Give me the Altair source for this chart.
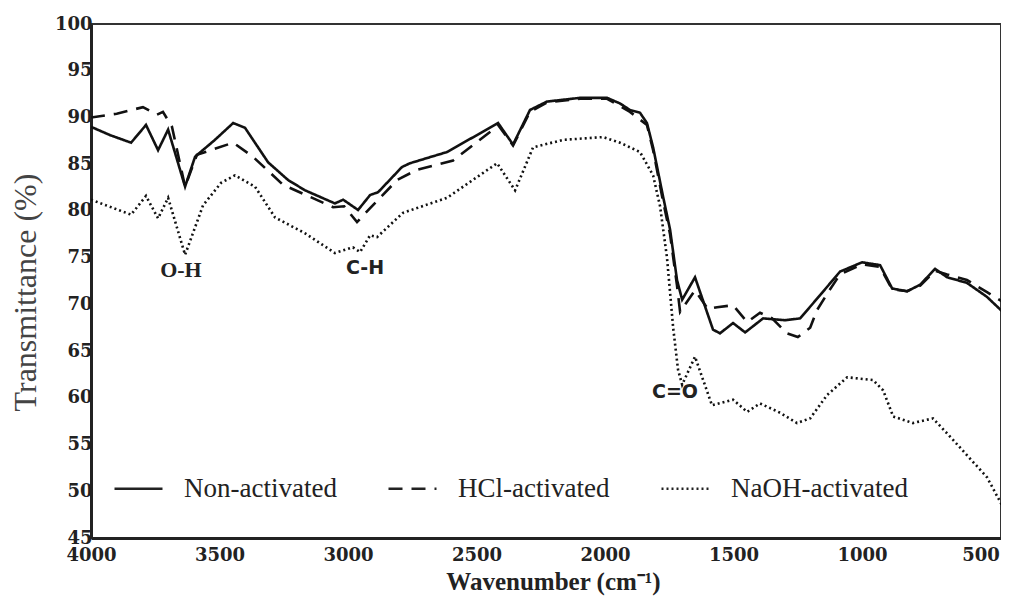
import altair as alt
import pandas as pd

# ---- data (wavenumber cm-1, transmittance %) ----
non_wn = [4000, 3925, 3844, 3786, 3739, 3700, 3634, 3595, 3518, 3447, 3401, 3311, 3233, 3167,
          3051, 3019, 2961, 2914, 2883, 2790, 2759, 2615, 2416, 2358, 2292, 2226, 2097, 1992,
          1942, 1903, 1864, 1837, 1813, 1774, 1747, 1720, 1700, 1650, 1580, 1553, 1502, 1455,
          1385, 1300, 1241, 1163, 1086, 1000, 930, 883, 825, 774, 716, 669, 592, 514, 430]
non_t = [89.0, 88.1, 87.3, 89.2, 86.5, 88.7, 82.6, 85.8, 87.6, 89.4, 88.9, 85.2, 83.3, 82.2,
         80.8, 81.2, 80.1, 81.7, 82.0, 84.7, 85.1, 86.3, 89.4, 87.1, 90.8, 91.7, 92.1, 92.1,
         91.5, 90.8, 90.5, 89.4, 86.8, 81.5, 78.0, 72.6, 70.5, 72.9, 67.3, 66.9, 68.0, 67.0,
         68.5, 68.3, 68.5, 71.0, 73.5, 74.5, 74.2, 71.7, 71.4, 72.1, 73.8, 72.9, 72.3, 70.8, 68.6]

hcl_wn = [4000, 3900, 3798, 3743, 3720, 3685, 3634, 3588, 3447, 3370, 3253, 3058, 3015, 2965,
          2914, 2809, 2732, 2591, 2436, 2416, 2358, 2292, 2226, 2097, 1992, 1903, 1837, 1813,
          1774, 1747, 1720, 1708, 1650, 1600, 1564, 1502, 1447, 1397, 1350, 1292, 1250, 1202,
          1175, 1132, 1086, 1000, 930, 883, 825, 774, 716, 669, 592, 514, 430]
hcl_t = [90.0, 90.4, 91.1, 90.3, 90.6, 89.0, 82.6, 86.0, 87.3, 85.8, 82.8, 80.4, 80.5, 78.8,
         80.3, 83.3, 84.4, 85.4, 88.7, 89.2, 87.0, 90.6, 91.6, 92.0, 92.0, 90.6, 89.2, 86.5,
         81.0, 77.5, 72.0, 69.2, 71.5, 69.5, 69.7, 69.9, 68.1, 69.1, 68.5, 66.9, 66.5, 67.5,
         69.4, 71.3, 73.2, 74.3, 74.0, 71.6, 71.4, 72.0, 73.6, 73.2, 72.6, 71.3, 69.9]

naoh_wn = [4000, 3844, 3786, 3739, 3700, 3634, 3564, 3494, 3440, 3362, 3284, 3167, 3051, 2981,
           2953, 2914, 2887, 2786, 2615, 2420, 2350, 2280, 2163, 2008, 1942, 1864, 1813, 1786,
           1759, 1735, 1716, 1700, 1650, 1584, 1502, 1447, 1397, 1319, 1253, 1202, 1136, 1058,
           957, 918, 879, 802, 724, 646, 514, 430]
naoh_t = [81.2, 79.6, 81.6, 79.2, 81.4, 75.3, 80.6, 83.0, 83.8, 82.6, 79.3, 77.6, 75.5, 76.1,
          75.6, 77.4, 77.2, 79.8, 81.4, 85.1, 82.2, 86.8, 87.6, 87.9, 87.3, 86.3, 83.8, 80.5,
          75.0, 67.5, 63.0, 61.4, 64.4, 59.2, 59.8, 58.5, 59.4, 58.4, 57.3, 57.8, 60.3, 62.2,
          61.9, 60.8, 58.0, 57.3, 57.8, 55.5, 51.5, 47.2]

series_names = ["Non-activated", "HCl-activated", "NaOH-activated"]

ann_labels = ["O-H", "C-H", "C=O"]
ann_wn = [3650, 2934, 1728]
ann_t = [73.7, 73.9, 60.6]

x_ticks = [4000, 3500, 3000, 2500, 2000, 1500, 1000, 500]
y_ticks = [45, 50, 55, 60, 65, 70, 75, 80, 85, 90, 95, 100]

# ---- build table ----
rows = []
for name, wns, ts in zip(series_names, [non_wn, hcl_wn, naoh_wn], [non_t, hcl_t, naoh_t]):
    for w, t in zip(wns, ts):
        rows.append({"series": name, "wavenumber": w, "transmittance": t})
df = pd.DataFrame(rows)
ann_df = pd.DataFrame({"label": ann_labels, "wavenumber": ann_wn, "transmittance": ann_t})

x_scale = alt.Scale(domain=[4000, 459.5], nice=False, zero=False)
y_scale = alt.Scale(domain=[45, 100], nice=False, zero=False)

x_axis = alt.Axis(values=x_ticks, format="d", title="Wavenumber (cm\u207b\u00b9)", labelFlush=False,
                  labelPadding=8,
                  labelOffset={"condition": {"test": "datum.value == 500", "value": -10}, "value": 0},
                  titleFont="Liberation Serif", titleFontWeight="bold",
                  titleFontSize=25, titleColor="#222", titleX=462, titleY=51,
                  titleBaseline="alphabetic", titleAlign="center", titleAnchor="start")
y_axis = alt.Axis(values=y_ticks, format="d", title="Transmittance (%)", labelPadding=-1,
                  titleFont="Liberation Serif", titleFontWeight="normal", titleFontSize=32,
                  titleColor="#444", titleX=-66, titleY=268, titleBaseline="middle",
                  titleAlign="center", titleAnchor="start", labelFlush=False)

lines = alt.Chart(df).mark_line(strokeWidth=2.6, color="#111", clip=True).encode(
    x=alt.X("wavenumber:Q", scale=x_scale, axis=x_axis),
    y=alt.Y("transmittance:Q", scale=y_scale, axis=y_axis),
    strokeDash=alt.StrokeDash(
        "series:N",
        scale=alt.Scale(domain=series_names, range=[[1, 0], [14, 9], [2, 3]]),
        legend=alt.Legend(title=None, orient="none", legendX=22, legendY=439,
                          direction="horizontal", columns=3, symbolType="stroke",
                          symbolSize=2304, symbolStrokeWidth=2.5, symbolStrokeColor="#222",
                          labelFont="Liberation Serif", labelFontSize=27, labelColor="#222",
                          labelOffset=20, columnPadding=46, padding=0, labelLimit=400),
    ),
)

ann_serif = alt.Chart(ann_df[ann_df["label"] == "O-H"]).mark_text(
    font="Liberation Serif", fontWeight="bold", fontSize=22, color="#222"
).encode(
    x=alt.X("wavenumber:Q", scale=x_scale),
    y=alt.Y("transmittance:Q", scale=y_scale),
    text="label:N",
)
ann_sans = alt.Chart(ann_df[ann_df["label"] != "O-H"]).mark_text(
    font="DejaVu Sans", fontWeight="bold", fontSize=19, color="#222"
).encode(
    x=alt.X("wavenumber:Q", scale=x_scale),
    y=alt.Y("transmittance:Q", scale=y_scale),
    text="label:N",
)

chart = alt.layer(lines, ann_serif, ann_sans).properties(
    width=910, height=514,
    autosize=alt.AutoSizeParams(type="none"),
    padding={"left": 83, "top": 16, "right": 0, "bottom": 58},
    background="white",
).configure_axis(
    domainColor="#222", domainWidth=3, ticks=False, grid=False,
    labelFont="DejaVu Serif", labelFontSize=18, labelFontWeight="bold", labelColor="#222",
).configure_view(stroke="#333", strokeWidth=2)

chart.save("out.html", embed_options={"renderer": "svg", "actions": False})
